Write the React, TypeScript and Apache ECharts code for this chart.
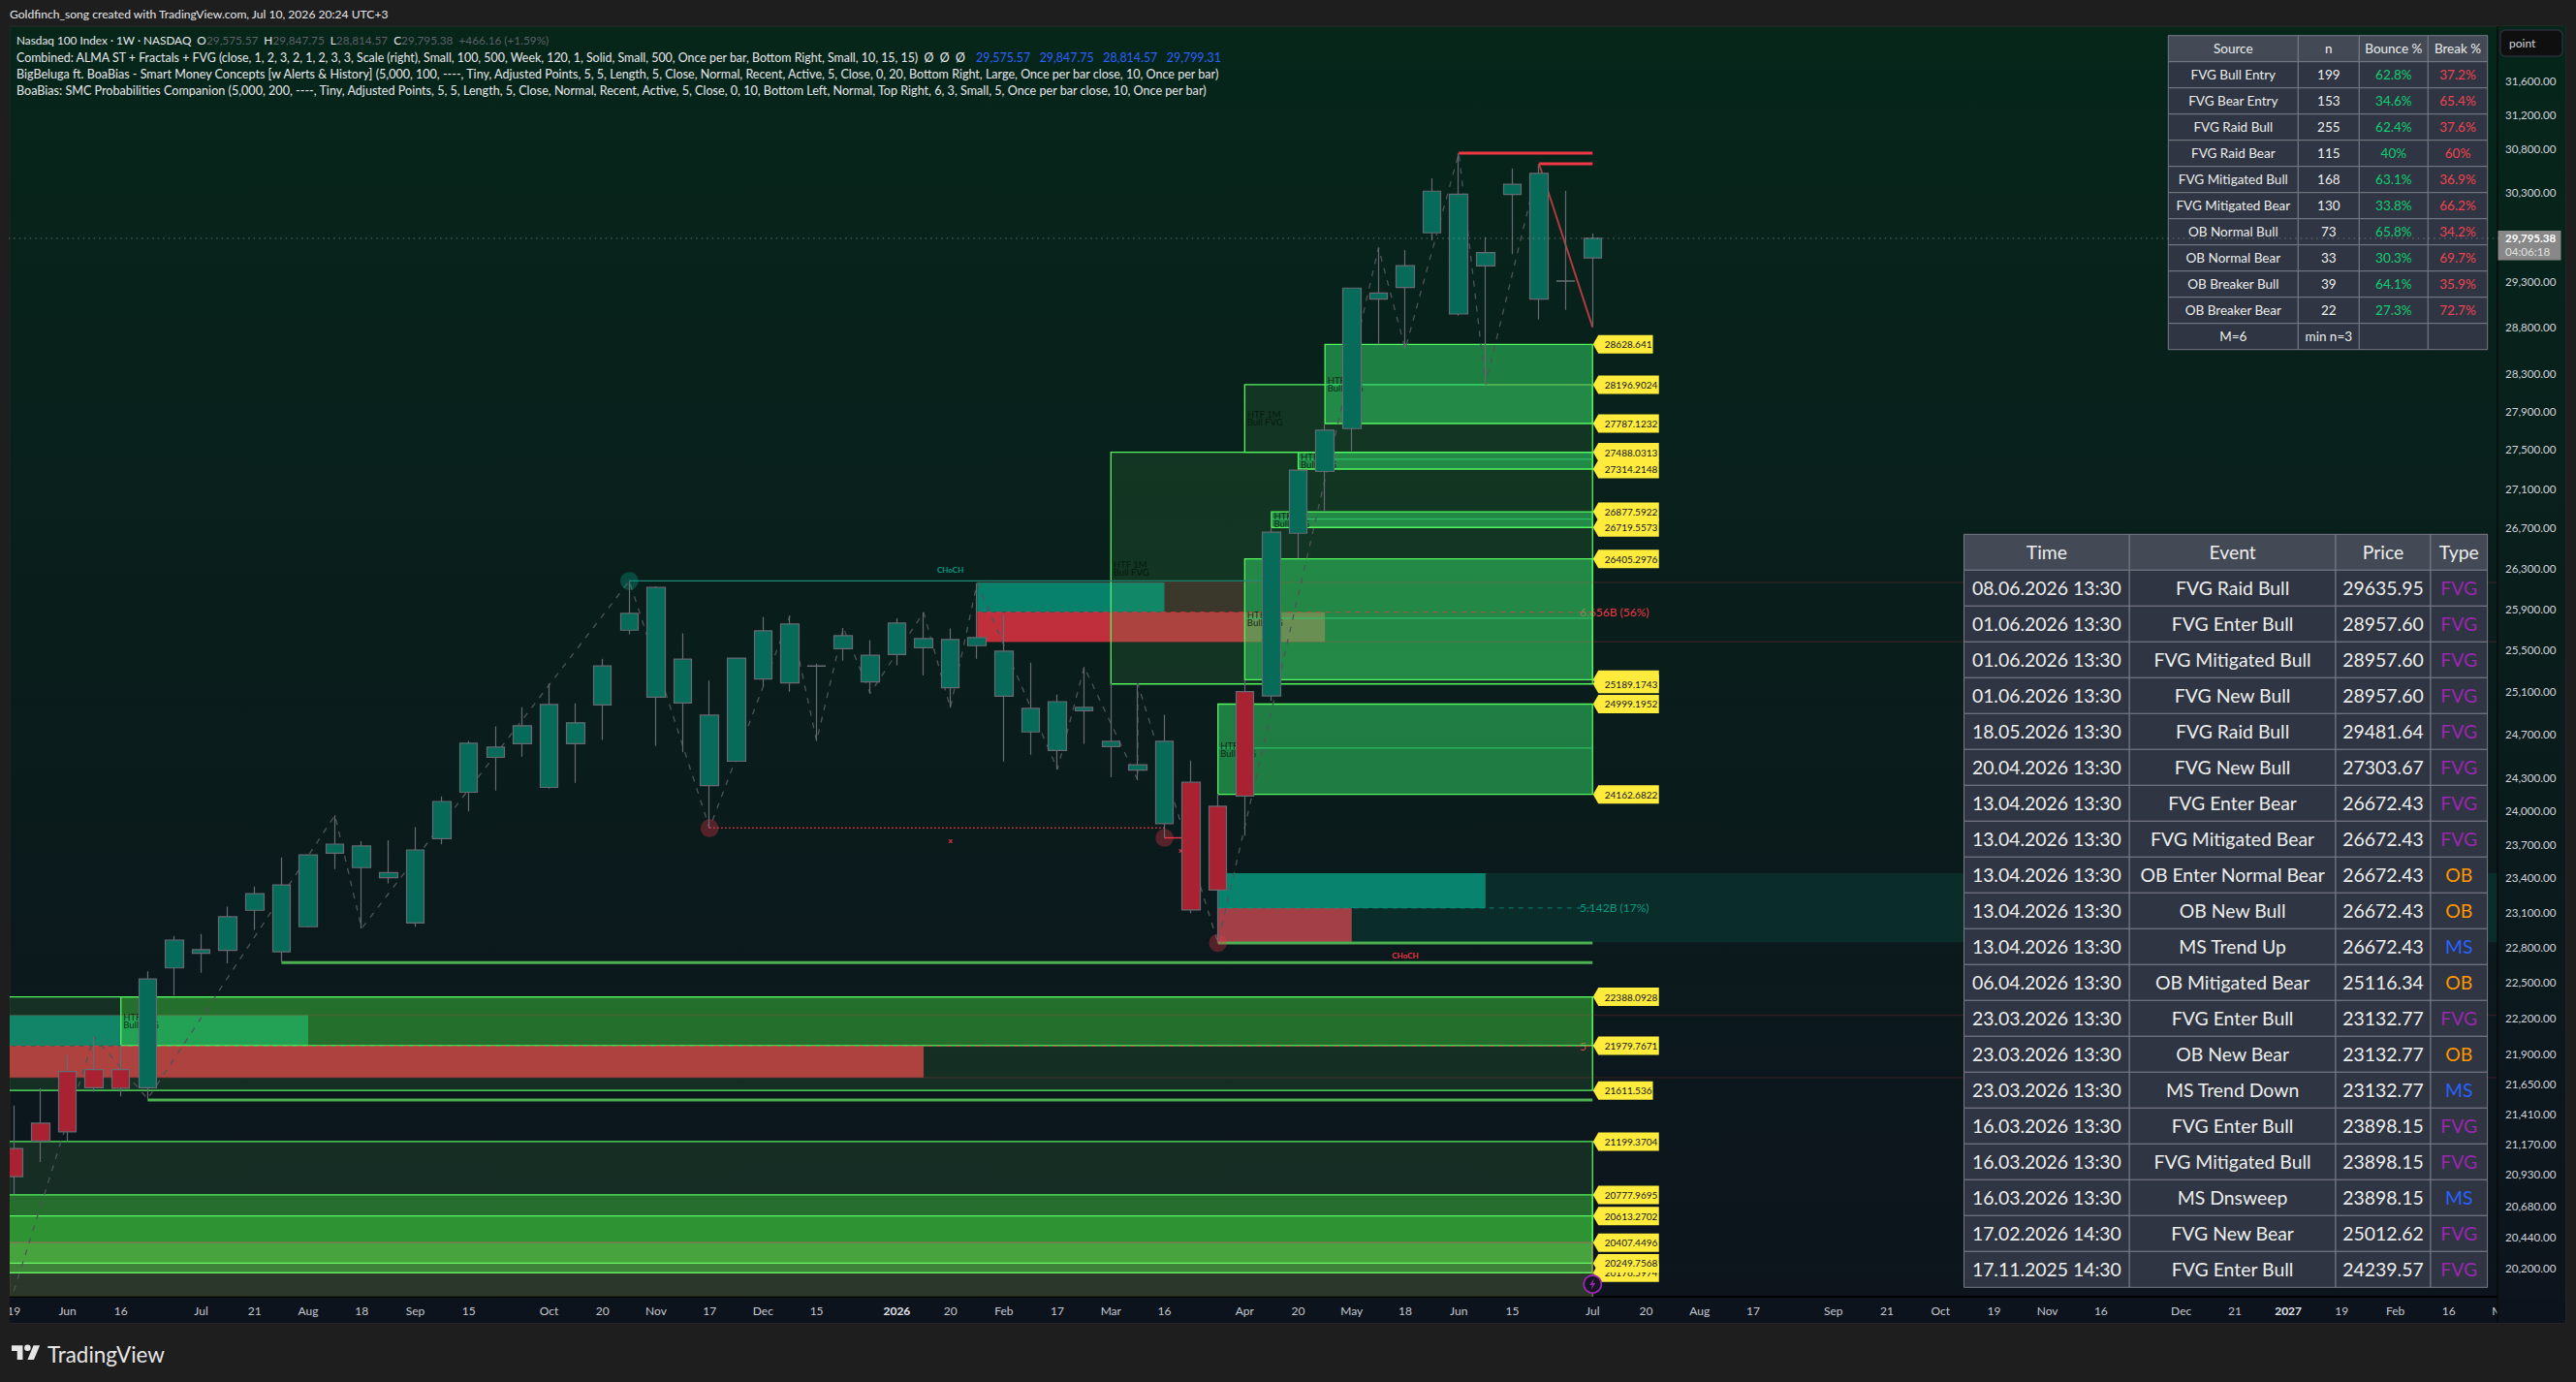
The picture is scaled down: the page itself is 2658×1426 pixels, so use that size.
import { useEffect, useRef } from "react";
import * as echarts from "echarts";

// weekly bars (index 0 = the week labelled 19 May at the left edge)
const opens = [21144, 21347, 21766, 21782, 21782, 21633, 22633, 22759, 22784, 23130, 22771, 22987, 23632, 23505, 23416, 23020, 23763, 24182, 24502, 24629, 24226, 24629, 24991, 25705, 25064, 25009, 24243, 24466, 25236, 25199, 25359, 25527, 25209, 25470, 25535, 25154, 25555, 25073, 24738, 24566, 24937, 24602, 24385, 24651, 24273, 24055, 24147, 25076, 26661, 27289, 27734, 29120, 29248, 29857, 30296, 29487, 30292, 29120, 29318, 29575.57];
const highs = [21490, 21629, 21901, 22055, 21987, 22604, 22908, 22925, 23161, 23338, 23595, 23625, 23973, 23740, 23749, 23866, 24145, 24654, 24790, 24970, 25194, 25007, 25430, 26187, 26134, 25674, 25221, 25440, 25834, 25843, 25383, 25727, 25608, 25821, 25878, 25721, 26165, 25852, 25392, 25088, 25351, 25197, 25194, 24898, 24473, 24169, 25227, 26723, 27306, 27784, 29245, 29691, 29665, 30478, 30769, 29807, 30592, 30645, 30333, 29847.75];
const lows = [20785, 21036, 21203, 21602, 21563, 21543, 22401, 22592, 22673, 22959, 22678, 22980, 23492, 22973, 23365, 22986, 23711, 24008, 24197, 24509, 24215, 24267, 24663, 25665, 24608, 24548, 23857, 24460, 25167, 25115, 24654, 25411, 25100, 25367, 25270, 24964, 25430, 24464, 24527, 24391, 24627, 24319, 24293, 23770, 23104, 22847, 23789, 25031, 26408, 26879, 27501, 28629, 28577, 29774, 28939, 28199, 29618, 28898, 29003, 28814.57];
const closes = [20921, 21203, 21277, 21633, 21629, 22539, 22872, 22790, 23074, 23276, 23352, 23618, 23714, 23697, 23461, 23662, 24098, 24633, 24597, 24796, 24995, 24823, 25361, 25868, 26122, 25426, 24895, 25436, 25699, 25765, 25361, 25652, 25464, 25774, 25624, 25615, 25634, 25502, 24959, 25022, 24968, 24651, 24434, 23898.15, 23132.77, 23307, 25116.34, 26672.43, 27303.67, 27718, 29242, 29188, 29491, 30330, 28957.6, 29635.95, 30409, 30533, 29322, 29795.38];
const redBars = [0, 1, 2, 3, 4, 44, 45, 46];
const lastBar = 59;
const lastPrice = 29795.38;

const swingIdx = [0, 3, 5, 12, 13, 23, 26, 29, 30, 31, 32, 34, 35, 36, 39, 40, 42, 42, 45, 51, 52, 54, 55, 57];
const swingPrice = [20038, 22055, 21543, 23973, 22973, 26187, 23857, 25843, 24654, 25727, 25100, 25878, 24964, 26165, 24391, 25351, 24293, 25194, 22847, 29691, 28577, 30769, 28199, 30645];

// FVG boxes
const zoneLeft = [46, 41, -1, -1, 49, 48, 47, 46, 45, 4, -1, -1, -1];
const zoneTop = [28196.9024, 27488.0313, 22388.0928, 21199.3704, 28628.641, 27488.0313, 26877.5922, 26405.2976, 24999.1952, 22388.0928, 20777.9695, 20613.2702, 20407.4496];
const zoneBottom = [27488.0313, 25189.1743, 21611.536, 20176.5974, 27787.1232, 27314.2148, 26719.5573, 25230, 24162.6822, 21979.7671, 20176.5974, 20249.7568, 19900];
const zoneMid = [0, 0, 0, 0, 28196.9024, 27415, 26804, 25821, 24588, 0, 0, 0, 0];
const zoneTier = ["dark", "dark", "dark", "dark", "bright", "bright", "bright", "bright", "bright", "mid", "mid", "mid", "olive"];

const tagTexts = ["20176.5974", "20249.7568", "20407.4496", "20613.2702", "20777.9695", "21199.3704", "21611.536", "21979.7671", "22388.0928", "24162.6822", "24999.1952", "", "25189.1743", "26405.2976", "26719.5573", "26877.5922", "27314.2148", "27488.0313", "27787.1232", "28196.9024", "28628.641"];
const tagPrices = [20176.5974, 20249.7568, 20407.4496, 20613.2702, 20777.9695, 21199.3704, 21611.536, 21979.7671, 22388.0928, 24162.6822, 24999.1952, 25230, 25189.1743, 26405.2976, 26719.5573, 26877.5922, 27314.2148, 27488.0313, 27787.1232, 28196.9024, 28628.641];

// order block bars: [from, to, top, bottom]
const obTealBars = [[36, 43, 26172, 25880], [45, 55, 23455, 23150], [-1, 11, 22233, 21976]];
const obRedBars = [[36, 49, 25880, 25592], [45, 50, 23150, 22852], [-1, 34, 21976, 21717]];
const obNotes = ["6.656B (56%)", "5.142B (17%)", "5"];
const obNotePrices = [25880, 23150, 21979];

const priceTicks = [31600, 31200, 30800, 30300, 29300, 28800, 28300, 27900, 27500, 27100, 26700, 26300, 25900, 25500, 25100, 24700, 24300, 24000, 23700, 23400, 23100, 22800, 22500, 22200, 21900, 21650, 21410, 21170, 20930, 20680, 20440, 20200];
const timeTickIdx = [0, 2, 4, 7, 9, 11, 13, 15, 17, 20, 22, 24, 26, 28, 30, 33, 35, 37, 39, 41, 43, 46, 48, 50, 52, 54, 56, 59, 61, 63, 65, 68, 70, 72, 74, 76, 78, 81, 83, 85, 87, 89, 91, 93];
const timeTickText = ["19", "Jun", "16", "Jul", "21", "Aug", "18", "Sep", "15", "Oct", "20", "Nov", "17", "Dec", "15", "2026", "20", "Feb", "17", "Mar", "16", "Apr", "20", "May", "18", "Jun", "15", "Jul", "20", "Aug", "17", "Sep", "21", "Oct", "19", "Nov", "16", "Dec", "21", "2027", "19", "Feb", "16", "Mar"];

const statSources = ["FVG Bull Entry", "FVG Bear Entry", "FVG Raid Bull", "FVG Raid Bear", "FVG Mitigated Bull", "FVG Mitigated Bear", "OB Normal Bull", "OB Normal Bear", "OB Breaker Bull", "OB Breaker Bear", "M=6"];
const statCounts = ["199", "153", "255", "115", "168", "130", "73", "33", "39", "22", "min n=3"];
const statBounce = ["62.8%", "34.6%", "62.4%", "40%", "63.1%", "33.8%", "65.8%", "30.3%", "64.1%", "27.3%", ""];
const statBreak = ["37.2%", "65.4%", "37.6%", "60%", "36.9%", "66.2%", "34.2%", "69.7%", "35.9%", "72.7%", ""];

const eventTimes = ["08.06.2026 13:30", "01.06.2026 13:30", "01.06.2026 13:30", "01.06.2026 13:30", "18.05.2026 13:30", "20.04.2026 13:30", "13.04.2026 13:30", "13.04.2026 13:30", "13.04.2026 13:30", "13.04.2026 13:30", "13.04.2026 13:30", "06.04.2026 13:30", "23.03.2026 13:30", "23.03.2026 13:30", "23.03.2026 13:30", "16.03.2026 13:30", "16.03.2026 13:30", "16.03.2026 13:30", "17.02.2026 14:30", "17.11.2025 14:30"];
const eventNames = ["FVG Raid Bull", "FVG Enter Bull", "FVG Mitigated Bull", "FVG New Bull", "FVG Raid Bull", "FVG New Bull", "FVG Enter Bear", "FVG Mitigated Bear", "OB Enter Normal Bear", "OB New Bull", "MS Trend Up", "OB Mitigated Bear", "FVG Enter Bull", "OB New Bear", "MS Trend Down", "FVG Enter Bull", "FVG Mitigated Bull", "MS Dnsweep", "FVG New Bear", "FVG Enter Bull"];
const eventPrices = ["29635.95", "28957.60", "28957.60", "28957.60", "29481.64", "27303.67", "26672.43", "26672.43", "26672.43", "26672.43", "26672.43", "25116.34", "23132.77", "23132.77", "23132.77", "23898.15", "23898.15", "23898.15", "25012.62", "24239.57"];
const eventTypes = ["FVG", "FVG", "FVG", "FVG", "FVG", "FVG", "FVG", "FVG", "OB", "OB", "MS", "OB", "FVG", "OB", "MS", "FVG", "FVG", "MS", "FVG", "FVG"];

const FONT = "Lato";
const TEAL = "#076b5a";
const RED = "#a82232";
const tierFill: Record<string, string> = {
  dark: "rgba(76,175,80,0.156)",
  bright: "rgba(50,205,100,0.55)",
  mid: "rgba(60,200,60,0.42)",
  olive: "rgba(210,255,120,0.15)",
};
const typeColor: Record<string, string> = { FVG: "#9c27b0", OB: "#ff9800", MS: "#2962ff" };
const paneFill = {
  type: "linear", x: 0, y: 0, x2: 0, y2: 1,
  colorStops: [{ offset: 0, color: "#06261a" }, { offset: 1, color: "#0d141d" }],
};

echarts.graphic.registerShape("tvlogo", echarts.graphic.extendPath("M14 22H7V11H0V4h14v18zM28 22h-8l7.5-18h8L28 22zM24 7a4 4 0 1 1-8 0a4 4 0 1 1 8 0z", {}));

function fmtPrice(v: number) {
  return v.toLocaleString("en-US", { minimumFractionDigits: 2, maximumFractionDigits: 2 });
}

function tableCells(x: number[], y0: number, rowH: number, header: string[], rows: { text: string; fill?: string }[][], fontSize: number) {
  const out: any[] = [];
  const all = [header.map((text) => ({ text })), ...rows];
  all.forEach((row, r) => {
    row.forEach((cell, c) => {
      out.push({
        type: "rect", z: 50, silent: true,
        shape: { x: x[c], y: y0 + r * rowH, width: x[c + 1] - x[c], height: rowH },
        style: { fill: r === 0 ? "#434a56" : "#2f3542", stroke: "#787b86", lineWidth: 1 },
      });
      if (cell.text) {
        out.push({
          type: "text", z: 51, silent: true,
          x: (x[c] + x[c + 1]) / 2, y: y0 + r * rowH + rowH / 2,
          style: { text: cell.text, fill: cell.fill || "#eceded", fontFamily: FONT, fontSize, align: "center", verticalAlign: "middle" },
        });
      }
    });
  });
  return out;
}

function legendText(y: number, text: string, fontSize: number, rich?: any, x = 17) {
  return { type: "text", z: 45, silent: true, x, y, style: { text, rich, fill: "#e6e7ea", fontFamily: FONT, fontSize, verticalAlign: "middle", align: "left" } };
}

function hLine(from: number, to: number, price: number, color: string, width: number, type: any = "solid", z = 3) {
  return {
    type: "line", silent: true, z, symbol: "none", animation: false,
    data: [[from, price], [to, price]],
    lineStyle: { color, width, type },
  };
}

export default function App() {
  const chartRef = useRef<HTMLDivElement>(null);

  useEffect(() => {
    if (!chartRef.current) return;
    const chart = echarts.init(chartRef.current, undefined, { renderer: "svg" });

    const candles = opens.map((o, i) => {
      const c = redBars.includes(i) ? RED : TEAL;
      return {
        value: [i, o, closes[i], lows[i], highs[i]],
        itemStyle: { color: c, color0: c, borderColor: "#666a72", borderColor0: "#666a72", borderWidth: 1.2 },
      };
    });

    const rectSeries = (rows: any[], fill: string, z: number) => ({
      type: "custom", silent: true, z, clip: true,
      data: rows,
      renderItem: (_p: any, api: any) => {
        const a = api.coord([api.value(0), api.value(2)]);
        const b = api.coord([api.value(1), api.value(3)]);
        return { type: "rect", shape: { x: a[0], y: a[1], width: b[0] - a[0], height: b[1] - a[1] }, style: { fill } };
      },
    });

    const option: any = {
      animation: false,
      backgroundColor: "#1e1e1e",
      grid: { left: 10, top: 27, width: 2577.5, height: 1311, show: false },
      xAxis: {
        type: "value",
        min: -0.15574,
        max: 93.2,
        splitLine: { show: false },
        axisTick: { show: false },
        axisLine: { show: true, onZero: false, lineStyle: { color: "#000", width: 2 } },
        axisLabel: {
          customValues: timeTickIdx,
          color: "#c5c8d0",
          fontFamily: FONT,
          fontSize: 12,
          margin: 8,
          showMinLabel: true,
          showMaxLabel: true,
          formatter: (v: number) => {
            const t = timeTickText[timeTickIdx.indexOf(v)];
            return t === "2026" || t === "2027" ? `{b|${t}}` : t;
          },
          rich: { b: { fontWeight: "bold", color: "#e0e3eb", fontFamily: FONT, fontSize: 12 } },
        },
      },
      yAxis: {
        type: "log",
        logBase: Math.E,
        min: 19995.4,
        max: 32275.6,
        position: "right",
        axisLine: { show: false },
        axisTick: { show: false },
        axisLabel: { show: false },
        splitLine: { show: false },
      },
      series: [
        rectSeries(obTealBars, "rgba(8,153,129,0.8)", 1),
        rectSeries(obRedBars, "rgba(242,54,69,0.78)", 1),
        rectSeries([[45, 93.2, 23455, 22852]], "rgba(8,153,129,0.15)", 1),
        rectSeries([[43, 46, 26172, 25880]], "rgba(242,54,69,0.2)", 1),
        {
          type: "custom", silent: true, z: 1, clip: true,
          data: obNotes.map((_t, i) => [58.52, obNotePrices[i], i]),
          renderItem: (_p: any, api: any) => {
            const i = api.value(2);
            const pt = api.coord([api.value(0), api.value(1)]);
            return {
              type: "text", x: pt[0], y: pt[1],
              style: { text: obNotes[i], fill: i === 1 ? "#089981" : "#f23645", fontFamily: FONT, fontSize: 12, verticalAlign: "middle" },
            };
          },
        },
        {
          // FVG boxes with their midline and the HTF caption
          type: "custom", silent: true, z: 2, clip: true,
          data: zoneLeft.map((l, i) => [l, zoneTop[i], zoneBottom[i], zoneMid[i], i]),
          renderItem: (_p: any, api: any) => {
            const i = api.value(4);
            const tier = zoneTier[i];
            const a = api.coord([api.value(0), api.value(1)]);
            const b = api.coord([lastBar, api.value(2)]);
            const kids: any[] = [
              {
                type: "rect",
                shape: { x: a[0], y: a[1], width: b[0] - a[0], height: b[1] - a[1] },
                style: { fill: tierFill[tier], stroke: tier === "olive" ? "#8a7a55" : "#55f55f", lineWidth: 1.3 },
              },
            ];
            if (zoneMid[i]) {
              const m = api.coord([lastBar, zoneMid[i]]);
              kids.push({ type: "line", shape: { x1: a[0], y1: m[1], x2: b[0], y2: m[1] }, style: { stroke: "#2ec86c", lineWidth: 1 } });
            }
            if (zoneLeft[i] >= 0) {
              kids.push({
                type: "text", x: a[0] + 2.5, y: (a[1] + b[1]) / 2,
                style: { text: "HTF 1M\nBull FVG", fill: "rgba(2,20,8,0.85)", fontFamily: FONT, fontSize: 9.5, lineHeight: 8, verticalAlign: "middle" },
              });
            }
            return { type: "group", children: kids };
          },
        },
        // order block edges and dashed midlines
        hLine(36, 93.2, 26172, "rgba(242,54,69,0.16)", 1.4),
        hLine(36, 93.2, 25592, "rgba(242,54,69,0.16)", 1.4),
        hLine(-1, 93.2, 22233, "rgba(242,54,69,0.16)", 1.4),
        hLine(-1, 93.2, 21717, "rgba(242,54,69,0.16)", 1.4),
        hLine(36, lastBar, 25880, "rgba(242,54,69,0.7)", 1, [5, 5]),
        hLine(45, lastBar, 23150, "rgba(8,153,129,0.8)", 1, [5, 5]),
        hLine(-1, lastBar, 21976, "rgba(242,54,69,0.8)", 1, [5, 5]),
        hLine(23, 47, 26187, "#1d8a75", 1.4),
        hLine(26, 43, 23860, "#f23645", 1.4, [1.5, 2.5]),
        hLine(43, 44, 23770, "#f23645", 1.4),
        // broken structure levels
        hLine(5, lastBar, 21535, "#4caf50", 3),
        hLine(10, lastBar, 22678, "#4caf50", 3),
        hLine(45, lastBar, 22847, "#4caf50", 3),
        hLine(55, lastBar, 28196, "#4caf50", 2),
        hLine(54, lastBar, highs[54], "#f23645", 3),
        hLine(57, lastBar, highs[57], "#f23645", 3),
        {
          type: "line", silent: true, z: 3, symbol: "none",
          data: swingIdx.map((x, i) => [x, swingPrice[i]]),
          lineStyle: { color: "#4e5558", width: 1.3, type: [6, 7] },
        },
        {
          type: "line", silent: true, z: 3, symbol: "none",
          data: [[57, highs[57]], [lastBar, lows[lastBar]]],
          lineStyle: { color: "#b13a3f", width: 2 },
        },
        {
          type: "scatter", silent: true, z: 3, symbolSize: 18.5,
          data: [[23, highs[23]]],
          itemStyle: { color: "rgba(8,153,129,0.45)" },
        },
        {
          type: "scatter", silent: true, z: 3, symbolSize: 18.5,
          data: [[26, lows[26]], [43, lows[43]], [45, lows[45]]],
          itemStyle: { color: "rgba(242,54,69,0.4)" },
        },
        {
          type: "custom", silent: true, z: 3, clip: true,
          data: [[35, 26299, 0], [52, 22742, 1], [35, 23752, 2], [43.6, 23665, 3]],
          renderItem: (_p: any, api: any) => {
            const i = api.value(2);
            const pt = api.coord([api.value(0), api.value(1)]);
            return {
              type: "text", x: pt[0], y: pt[1],
              style: {
                text: i < 2 ? "CHoCH" : "x",
                fill: i === 0 ? "#089981" : "#f23645",
                fontFamily: FONT, fontSize: 8, fontWeight: "bold",
                align: "center", verticalAlign: "middle",
              },
            };
          },
        },
        {
          type: "candlestick", silent: true, z: 5,
          barWidth: 19,
          data: candles,
        },
        {
          // yellow price tags
          type: "custom", silent: true, z: 6,
          data: tagPrices.map((p, i) => [lastBar, p, i]),
          renderItem: (_p: any, api: any) => {
            const i = api.value(2);
            const pt = api.coord([lastBar, api.value(1)]);
            const x = pt[0] + 0.5;
            const y = pt[1];
            const w = (tagTexts[i].length || 10) * 6.25;
            return {
              type: "group",
              children: [
                {
                  type: "polygon",
                  shape: { points: [[x, y], [x + 5.5, y - 9.5], [x + 5.5 + w, y - 9.5], [x + 5.5 + w, y + 9.5], [x + 5.5, y + 9.5]] },
                  style: { fill: "#ffeb3b" },
                },
                {
                  type: "text", x: x + 12, y,
                  style: { text: tagTexts[i], fill: "#131722", fontFamily: FONT, fontSize: 10, verticalAlign: "middle" },
                },
              ],
            };
          },
        },
        {
          // bolt marker on the last bar
          type: "custom", silent: true, z: 7,
          data: [[lastBar, 20090]],
          renderItem: (_p: any, api: any) => {
            const pt = api.coord([api.value(0), api.value(1)]);
            const [x, y] = pt;
            return {
              type: "group",
              children: [
                { type: "circle", shape: { cx: x, cy: y, r: 9 }, style: { fill: "#131722", stroke: "#9c27b0", lineWidth: 1.8 } },
                {
                  type: "polygon",
                  shape: { points: [[x + 1.5, y - 6], [x - 3, y + 1], [x - 0.3, y + 1], [x - 1.5, y + 6], [x + 3, y - 1], [x + 0.3, y - 1]] },
                  style: { fill: "#9c27b0" },
                },
              ],
            };
          },
        },
        // dotted last price line crosses the stats table too
        hLine(-1, 93.2, lastPrice, "rgba(170,175,180,0.55)", 1, [1.5, 4], 60),
        {
          // price scale
          type: "custom", silent: true, z: 40,
          data: priceTicks.map((p) => [0, p]),
          renderItem: (_p: any, api: any) => {
            const pt = api.coord([0, api.value(1)]);
            return {
              type: "text", x: 2585, y: pt[1] - 1.5,
              style: { text: fmtPrice(api.value(1)), fill: "#d1d4dc", fontFamily: FONT, fontSize: 11.6, verticalAlign: "middle" },
            };
          },
        },
        {
          // last price badge
          type: "custom", silent: true, z: 40,
          data: [[0, lastPrice]],
          renderItem: (_p: any, api: any) => {
            const pt = api.coord([0, api.value(1)]);
            const y = pt[1];
            return {
              type: "group",
              children: [
                { type: "rect", shape: { x: 2577.5, y: y - 8, width: 65, height: 30.5 }, style: { fill: "#888888" } },
                { type: "text", x: 2585, y: y + 0, style: { text: fmtPrice(api.value(1)), fill: "#fff", fontFamily: FONT, fontSize: 11.5, fontWeight: "bold", verticalAlign: "middle" } },
                { type: "text", x: 2585, y: y + 14, style: { text: "04:06:18", fill: "#e0e0e0", fontFamily: FONT, fontSize: 11.6, verticalAlign: "middle" } },
              ],
            };
          },
        },
      ],
      graphic: [
        { type: "rect", z: -10, silent: true, shape: { x: 10, y: 27, width: 2637, height: 1338 }, style: { fill: paneFill, stroke: "#2a2a2a", lineWidth: 1 } },
        { type: "rect", z: -9, silent: true, shape: { x: 10, y: 1338, width: 2637, height: 27 }, style: { fill: "#0d131c" } },
        // covers so that nothing shows past the pane edges
        { type: "rect", z: 30, silent: true, shape: { x: 0, y: 20, width: 10, height: 1350 }, style: { fill: "#1e1e1e" } },
        { type: "rect", z: 30, silent: true, shape: { x: 2577, y: 27, width: 70, height: 1311 }, style: { fill: paneFill } },
        { type: "rect", z: 30, silent: true, shape: { x: 2577, y: 1338, width: 70, height: 27 }, style: { fill: "#0d131c" } },
        { type: "line", z: 31, silent: true, shape: { x1: 2577, y1: 27, x2: 2577, y2: 1365 }, style: { stroke: "#070707", lineWidth: 1.2 } },
        { type: "rect", z: 41, silent: true, shape: { x: 2580, y: 31, width: 64, height: 27, r: 5 }, style: { fill: "#0f0f0f", stroke: "#2a2e39", lineWidth: 1.5 } },
        { type: "text", z: 42, silent: true, x: 2589, y: 44, style: { text: "point", fill: "#d1d4dc", fontFamily: FONT, fontSize: 12, verticalAlign: "middle" } },
        // header, legend, logo
        legendText(14, "Goldfinch_song created with TradingView.com, Jul 10, 2026 20:24 UTC+3", 12.1, undefined, 10),
        legendText(
          41.5,
          "{w|Nasdaq 100 Index · 1W · NASDAQ  O}{g|29,575.57}{w|  H}{g|29,847.75}{w|  L}{g|28,814.57}{w|  C}{g|29,795.38}{g|  +466.16 (+1.59%)}",
          11.8,
          { w: { fill: "#e6e7ea", fontFamily: FONT, fontSize: 11.8 }, g: { fill: "#5d6068", fontFamily: FONT, fontSize: 11.8 } }
        ),
        legendText(
          59,
          "{w|Combined: ALMA ST + Fractals + FVG (close, 1, 2, 3, 2, 1, 2, 3, 3, Scale (right), Small, 100, 500, Week, 120, 1, Solid, Small, 500, Once per bar, Bottom Right, Small, 10, 15, 15)  Ø  Ø  Ø   }{b|29,575.57   29,847.75   28,814.57   29,799.31}",
          12.4,
          { w: { fill: "#e6e7ea", fontFamily: FONT, fontSize: 12.4 }, b: { fill: "#2962ff", fontFamily: FONT, fontSize: 12.4 } }
        ),
        legendText(76, "BigBeluga ft. BoaBias - Smart Money Concepts [w Alerts & History] (5,000, 100, ----, Tiny, Adjusted Points, 5, 5, Length, 5, Close, Normal, Recent, Active, 5, Close, 0, 20, Bottom Right, Large, Once per bar close, 10, Once per bar)", 12.55),
        legendText(93.5, "BoaBias: SMC Probabilities Companion (5,000, 200, ----, Tiny, Adjusted Points, 5, 5, Length, 5, Close, Normal, Recent, Active, 5, Close, 0, 10, Bottom Left, Normal, Top Right, 6, 3, Small, 5, Once per bar close, 10, Once per bar)", 12.6),
        { type: "tvlogo", z: 45, silent: true, x: 12, y: 1385, scaleX: 0.82, scaleY: 0.82, style: { fill: "#e6e6e6" } },
        { type: "text", z: 45, silent: true, x: 49, y: 1397, style: { text: "TradingView", fill: "#e6e6e6", fontFamily: FONT, fontSize: 22.4, verticalAlign: "middle" } },
        // statistics table
        ...tableCells(
          [2237.3, 2371.3, 2434.3, 2505.3, 2566.7], 36.7, 27,
          ["Source", "n", "Bounce %", "Break %"],
          statSources.map((s, i) => [
            { text: s },
            { text: statCounts[i] },
            { text: statBounce[i], fill: "#0fce72" },
            { text: statBreak[i], fill: "#ef4350" },
          ]),
          13.5
        ),
        // event log table
        ...tableCells(
          [2026.5, 2197.2, 2410, 2508, 2566.6], 551.3, 37,
          ["Time", "Event", "Price", "Type"],
          eventTimes.map((t, i) => [
            { text: t },
            { text: eventNames[i] },
            { text: eventPrices[i] },
            { text: eventTypes[i], fill: typeColor[eventTypes[i]] },
          ]),
          19.4
        ),
      ],
    };

    chart.setOption(option);
    return () => chart.dispose();
  }, []);

  return <div ref={chartRef} style={{ position: "absolute", left: 0, top: 0, width: 2658, height: 1426 }} />;
}
